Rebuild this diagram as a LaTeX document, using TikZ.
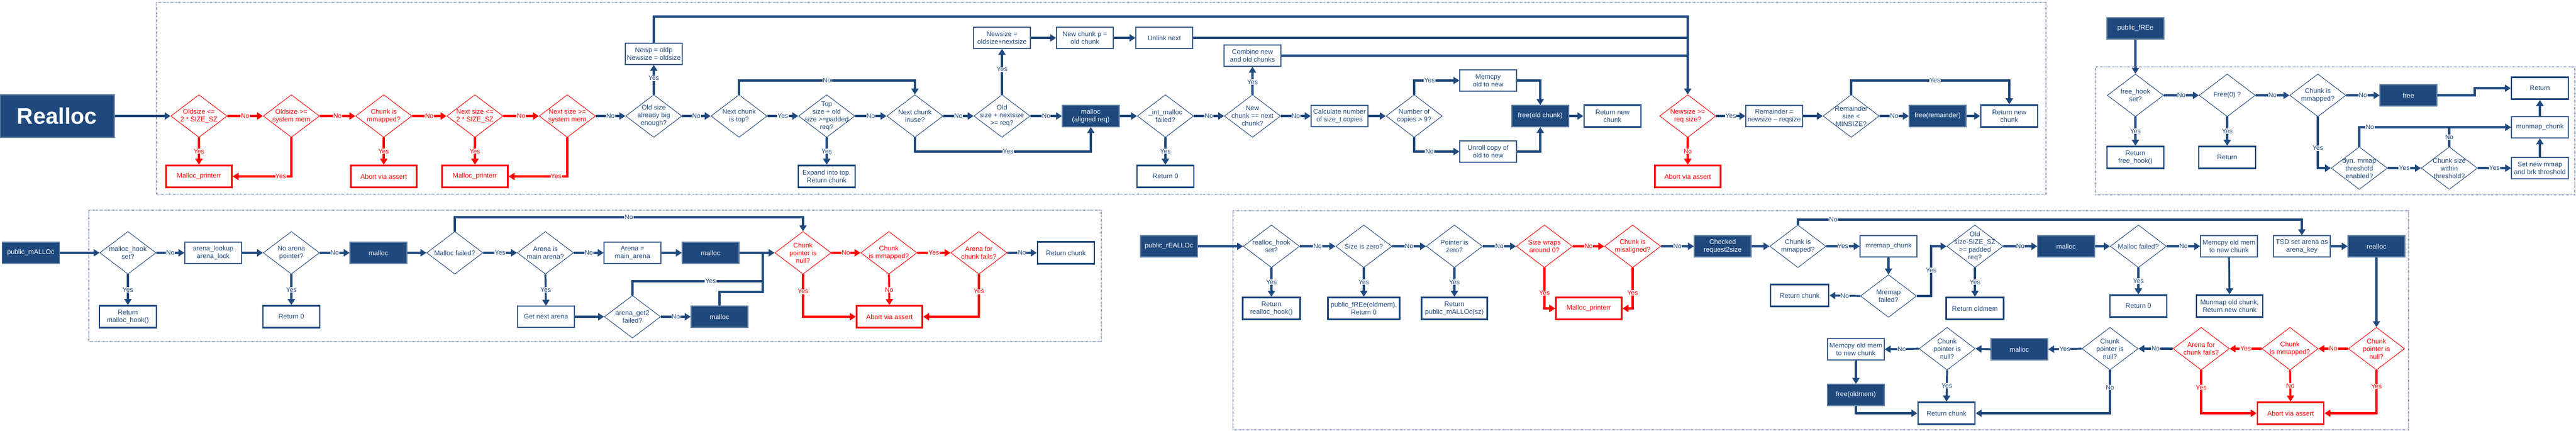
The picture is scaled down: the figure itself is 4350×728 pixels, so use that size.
\documentclass[tikz,border=0pt]{standalone}
\usepackage{fontspec}
\setmainfont{Liberation Sans}
\usetikzlibrary{shapes.geometric,arrows.meta}
\definecolor{dblue}{HTML}{1F497D}
\definecolor{frm}{HTML}{7F93B8}
\newcommand\dfnt{\fontsize{11.3}{13}\selectfont}
\newcommand\lfnt{\fontsize{11}{12}\selectfont}
\begin{document}
\begin{tikzpicture}[x=1pt,y=-1pt,
  bdia/.style={diamond,draw=dblue,line width=0.9pt,minimum width=95pt,minimum height=72pt,inner sep=0pt,fill=white},
  rdia/.style={bdia,draw=red},
  bdt/.style={align=center,font=\dfnt,text=dblue,inner sep=0pt},
  rdt/.style={bdt,text=red},
  tbox/.style={rectangle,draw=dblue!85,line width=1.2pt,fill=white,minimum width=96pt,minimum height=36pt,inner sep=0pt,align=center,text=dblue,font=\dfnt},
  fbox/.style={tbox,fill=dblue,text=white,draw=dblue!70},
  kbox/.style={tbox,line width=2.6pt,draw=dblue,minimum height=37pt},
  rbox/.style={kbox,draw=red,text=red,minimum width=111pt},
  bc/.style={draw=dblue,line width=3.2pt,-{Triangle[length=10pt,width=12pt]}},
  rc/.style={bc,draw=red},
  bl/.style={draw=dblue,line width=3.2pt},
  lb/.style={fill=white,inner sep=0.6pt,font=\lfnt,text=dblue},
  lr/.style={lb,text=red},
  frame/.style={draw=frm,line width=1.2pt,dash pattern=on 1pt off 1pt}
]
\useasboundingbox (0,0) rectangle (4350,728);
\fill[white] (0,0) rectangle (4350,728);

% frames
\draw[frame] (264,4) rectangle (3455,328);
\draw[frame] (3539,113) rectangle (4348,329);
\draw[frame] (150,355) rectangle (1860,577);
\draw[frame] (2082,356) rectangle (4067,726);

% helper coordinates
\coordinate (ytop) at (0,28);
\coordinate (yA) at (0,136);
\coordinate (yB) at (0,256);
\coordinate (fj) at (4179,0);
\coordinate (yM) at (0,367);
\coordinate (yY) at (0,475);
\coordinate (yZ) at (0,493);
\coordinate (jx) at (1288,0);
\coordinate (jr) at (3261,0);
\coordinate (yR) at (0,371);

% ===== Realloc (top) =====
\node[fbox,minimum width=193pt,minimum height=72pt,font=\fontsize{38}{40}\selectfont\bfseries] (realloc) at (96.5,196) {Realloc};
\node[rdia,label={[rdt]center:{Oldsize <=\\2 * SIZE\_SZ}}] (d1) at (336,196) {};
\node[rdia,label={[rdt]center:{Oldsize >=\\system mem}}] (d2) at (492,196) {};
\node[rdia,label={[rdt]center:{Chunk is\\mmapped?}}] (d3) at (648,196) {};
\node[rdia,label={[rdt]center:{Next size <=\\2 * SIZE\_SZ}}] (d4) at (802,196) {};
\node[rdia,label={[rdt]center:{Next size >=\\system mem}}] (d5) at (958,196) {};
\node[bdia,label={[bdt]center:{Old size\\already big\\enough?}}] (d6) at (1104,196) {};
\node[bdia,label={[bdt]center:{Next chunk\\is top?}}] (d7) at (1248,196) {};
\node[bdia,label={[bdt]center:{Top\\size + old\\size >=padded\\req?}}] (d8) at (1396,196) {};
\node[bdia,label={[bdt]center:{Next chunk\\inuse?}}] (d9) at (1545,196) {};
\node[bdia,label={[bdt]center:{Old\\size + nextsize\\>= req?}}] (d10) at (1692,196) {};
\node[fbox] (mal1) at (1842,196) {malloc\\(aligned req)};
\node[bdia,label={[bdt]center:{\_int\_malloc\\failed?}}] (d11) at (1968,196) {};
\node[bdia,label={[bdt]center:{New\\chunk == next\\chunk?}}] (d12) at (2115,196) {};
\node[tbox] (calc) at (2262,196) {Calculate number\\of size\_t copies};
\node[bdia,label={[bdt]center:{Number of\\copies > 9?}}] (d13) at (2388,196) {};
\node[tbox] (memcpy1) at (2513,136) {Memcpy\\old to new};
\node[tbox] (unroll) at (2513,256) {Unroll copy of\\old to new};
\node[fbox] (freeold) at (2601,196) {free(old chunk)};
\node[kbox] (retnew1) at (2723,196) {Return new\\chunk};
\node[rdia,label={[rdt]center:{Newsize >=\\req size?}}] (d14) at (2850,196) {};
\node[tbox] (remainder) at (2996,196) {Remainder =\\newsize -- reqsize};
\node[bdia,label={[bdt]center:{Remainder\\size <\\MINSIZE?}}] (d15) at (3126,196) {};
\node[fbox] (freerem) at (3272,196) {free(remainder)};
\node[kbox] (retnew2) at (3393,196) {Return new\\chunk};
\node[rbox] (pr1) at (336,298) {Malloc\_printerr};
\node[rbox] (abort1) at (648,298) {Abort via assert};
\node[rbox] (pr2) at (802,298) {Malloc\_printerr};
\node[tbox] (newp) at (1104,91) {Newp = oldp\\Newsize = oldsize};
\node[kbox] (expand) at (1396,298) {Expand into top,\\Return chunk};
\node[tbox] (newsize) at (1692,64) {Newsize =\\oldsize+nextsize};
\node[tbox] (newchunk) at (1832,64) {New chunk p =\\old chunk};
\node[tbox] (unlink) at (1966,64) {Unlink next};
\node[kbox] (ret0a) at (1968,298) {Return 0};
\node[tbox] (combine) at (2115,94) {Combine new\\and old chunks};
\node[rbox] (abort2) at (2850,298) {Abort via assert};

\draw[bc] (realloc.east) -- (d1.west);
\draw[rc] (d1.east) -- node[lr]{No} (d2.west);
\draw[rc] (d2.east) -- node[lr]{No} (d3.west);
\draw[rc] (d3.east) -- node[lr]{No} (d4.west);
\draw[rc] (d4.east) -- node[lr]{No} (d5.west);
\draw[bc] (d5.east) -- node[lb]{No} (d6.west);
\draw[rc] (d1.south) -- node[lr]{Yes} (pr1.north);
\draw[rc] (d2.south) -- (d2.south |- pr1.east) -- node[lr,pos=0.18]{Yes} (pr1.east);
\draw[rc] (d3.south) -- node[lr]{Yes} (abort1.north);
\draw[rc] (d4.south) -- node[lr]{Yes} (pr2.north);
\draw[rc] (d5.south) -- (d5.south |- pr2.east) -- node[lr,pos=0.19]{Yes} (pr2.east);
\draw[bc] (d6.east) -- node[lb]{No} (d7.west);
\draw[bc] (d6.north) -- node[lb,pos=0.55]{Yes} (newp.south);
\draw[bc] (newp.north) -- (newp.north |- ytop) -| (d14.north);
\draw[bl] (unlink.east) -- (unlink.east -| d14.north);
\draw[bl] (combine.east) -- (combine.east -| d14.north);
\draw[bc] (d7.east) -- node[lb]{Yes} (d8.west);
\draw[bc] (d7.north) -- (d7.north |- yA) -- node[lb]{No} (d9.north |- yA) -- (d9.north);
\draw[bc] (d8.south) -- node[lb]{Yes} (expand.north);
\draw[bc] (d8.east) -- node[lb]{No} (d9.west);
\draw[bc] (d9.east) -- node[lb]{No} (d10.west);
\draw[bc] (d9.south) -- (d9.south |- yB) -- node[lb,pos=0.53]{Yes} (mal1.south |- yB) -- (mal1.south);
\draw[bc] (d10.north) -- node[lb,pos=0.55]{Yes} (newsize.south);
\draw[bc] (d10.east) -- node[lb]{No} (mal1.west);
\draw[bc] (newsize.east) -- (newchunk.west);
\draw[bc] (newchunk.east) -- (unlink.west);
\draw[bc] (mal1.east) -- (d11.west);
\draw[bc] (d11.south) -- node[lb]{Yes} (ret0a.north);
\draw[bc] (d11.east) -- node[lb]{No} (d12.west);
\draw[bc] (d12.north) -- node[lb,pos=0.45]{Yes} (combine.south);
\draw[bc] (d12.east) -- node[lb]{No} (calc.west);
\draw[bc] (calc.east) -- (d13.west);
\draw[bc] (d13.north) -- (d13.north |- yA) -- node[lb,pos=0.34]{Yes} (memcpy1.west);
\draw[bc] (d13.south) -- (d13.south |- yB) -- node[lb,pos=0.34]{No} (unroll.west);
\draw[bc] (memcpy1.east) -| (freeold.north);
\draw[bc] (unroll.east) -| (freeold.south);
\draw[bc] (freeold.east) -- (retnew1.west);
\draw[rc] (d14.south) -- node[lr]{No} (abort2.north);
\draw[bc] (d14.east) -- node[lb]{Yes} (remainder.west);
\draw[bc] (remainder.east) -- (d15.west);
\draw[bc] (d15.east) -- node[lb]{No} (freerem.west);
\draw[bc] (d15.north) -- (d15.north |- yA) -- node[lb,pos=0.53]{Yes} (retnew2.north |- yA) -- (retnew2.north);
\draw[bc] (freerem.east) -- (retnew2.west);

% ===== public_fREe =====
\node[fbox] (pfree) at (3606,48) {public\_fREe};
\node[bdia,label={[bdt]center:{free\_hook\\set?}}] (f1) at (3606,161) {};
\node[bdia,label={[bdt]center:{Free(0) ?}}] (f2) at (3761,161) {};
\node[bdia,label={[bdt]center:{Chunk is\\mmapped?}}] (f3) at (3914,161) {};
\node[kbox] (retfh) at (3606,266) {Return\\free\_hook()};
\node[kbox] (ret) at (3761,266) {Return};
\node[fbox] (freeb) at (4067,161) {free};
\node[kbox] (retf) at (4289,149) {Return};
\node[bdia,label={[bdt]center:{dyn. mmap\\threshold\\enabled?}}] (f4) at (3984,284) {};
\node[bdia,label={[bdt]center:{Chunk size\\within\\threshold?}}] (f5) at (4136,284) {};
\node[tbox] (munmap) at (4289,215) {munmap\_chunk};
\node[tbox] (setnew) at (4289,284) {Set new mmap\\and brk threshold};

\draw[bc] (pfree.south) -- (f1.north);
\draw[bc] (f1.east) -- node[lb]{No} (f2.west);
\draw[bc] (f1.south) -- node[lb]{Yes} (retfh.north);
\draw[bc] (f2.east) -- node[lb]{No} (f3.west);
\draw[bc] (f2.south) -- node[lb]{Yes} (ret.north);
\draw[bc] (f3.east) -- node[lb]{No} (freeb.west);
\draw[bc] (freeb.east) -- (freeb.east -| fj) |- (retf.west);
\draw[bc] (f3.south) -- node[lb,pos=0.61]{Yes} (f3.south |- f4.west) -- (f4.west);
\draw[bc] (f4.north) -- (f4.north |- munmap.west) -- node[lb,pos=0.07]{No} (munmap.west);
\draw[bl] (f5.north) -- node[lb]{No} (f5.north |- munmap.west);
\draw[bc] (f4.east) -- node[lb]{Yes} (f5.west);
\draw[bc] (f5.east) -- node[lb]{Yes} (setnew.west);
\draw[bc] (setnew.north) -- (munmap.south);
\draw[bc] (munmap.north) -- (retf.south);

% ===== public_mALLOc =====
\node[fbox,minimum width=97pt] (pmalloc) at (52,427) {public\_mALLOc};
\node[bdia,label={[bdt]center:{malloc\_hook\\set?}}] (m1) at (216,427) {};
\node[kbox] (retmh) at (216,535) {Return\\malloc\_hook()};
\node[tbox] (arlk) at (360,427) {arena\_lookup\\arena\_lock};
\node[bdia,label={[bdt]center:{No arena\\pointer?}}] (m2) at (492,427) {};
\node[kbox] (ret0m) at (492,535) {Return 0};
\node[fbox] (mal2) at (639,427) {malloc};
\node[bdia,label={[bdt]center:{Malloc failed?}}] (m3) at (768,427) {};
\node[bdia,label={[bdt]center:{Arena is\\main arena?}}] (m4) at (921,427) {};
\node[tbox] (getnext) at (922,535) {Get next arena};
\node[tbox] (arm) at (1068,427) {Arena =\\main\_arena};
\node[fbox] (mal3) at (1200,427) {malloc};
\node[bdia,label={[bdt]center:{arena\_get2\\failed?}}] (ag2) at (1068,535) {};
\node[fbox] (mal4) at (1215,535) {malloc};
\node[rdia,label={[rdt]center:{Chunk\\pointer is\\null?}}] (m5) at (1356,427) {};
\node[rdia,label={[rdt]center:{Chunk\\is mmapped?}}] (m6) at (1501,427) {};
\node[rbox] (abortm) at (1502,535) {Abort via assert};
\node[rdia,label={[rdt]center:{Arena for\\chunk fails?}}] (m7) at (1653,427) {};
\node[kbox] (retchm) at (1800,427) {Return chunk};

\draw[bc] (pmalloc.east) -- (m1.west);
\draw[bc] (m1.east) -- node[lb]{No} (arlk.west);
\draw[bc] (m1.south) -- node[lb]{Yes} (retmh.north);
\draw[bc] (arlk.east) -- (m2.west);
\draw[bc] (m2.east) -- node[lb]{No} (mal2.west);
\draw[bc] (m2.south) -- node[lb]{Yes} (ret0m.north);
\draw[bc] (mal2.east) -- (m3.west);
\draw[bc] (m3.east) -- node[lb]{Yes} (m4.west);
\draw[bc] (m3.north) -- (m3.north |- yM) -- node[lb]{No} (m5.north |- yM) -- (m5.north);
\draw[bc] (m4.east) -- node[lb]{No} (arm.west);
\draw[bc] (m4.south) -- node[lb]{Yes} (getnext.north);
\draw[bc] (arm.east) -- (mal3.west);
\draw[bc] (mal3.east) -- (m5.west);
\draw[bc] (getnext.east) -- (ag2.west);
\draw[bc] (ag2.east) -- node[lb]{No} (mal4.west);
\draw[bl] (ag2.north) -- (ag2.north |- yY) -- node[lb,pos=0.6]{Yes} (jx |- yY);
\draw[bl] (mal4.north) -- (mal4.north |- yZ) -- (jx |- yZ) -- (jx |- m5.west);
\draw[rc] (m5.south) -- node[lr,pos=0.4]{Yes} (m5.south |- abortm.west) -- (abortm.west);
\draw[rc] (m5.east) -- node[lr]{No} (m6.west);
\draw[rc] (m6.south) -- node[lr]{No} (abortm.north);
\draw[rc] (m6.east) -- node[lr]{Yes} (m7.west);
\draw[rc] (m7.south) -- node[lr,pos=0.4]{Yes} (m7.south |- abortm.east) -- (abortm.east);
\draw[bc] (m7.east) -- node[lb]{No} (retchm.west);

% ===== public_rEALLOc =====
\node[fbox] (preal) at (1974,416) {public\_rEALLOc};
\node[bdia,label={[bdt]center:{realloc\_hook\\set?}}] (r1) at (2147,416) {};
\node[kbox,minimum width=97pt] (retrh) at (2147,521) {Return\\realloc\_hook()};
\node[bdia,label={[bdt]center:{Size is zero?}}] (r2) at (2303,416) {};
\node[kbox,minimum width=121pt] (rfree) at (2303,521) {public\_fREe(oldmem),\\Return 0};
\node[bdia,label={[bdt]center:{Pointer is\\zero?}}] (r3) at (2456,416) {};
\node[kbox,minimum width=111pt] (rpm) at (2456,521) {Return\\public\_mALLOc(sz)};
\node[rdia,label={[rdt]center:{Size wraps\\around 0?}}] (r4) at (2608,416) {};
\node[rbox] (pr3) at (2683,521) {Malloc\_printerr};
\node[rdia,label={[rdt]center:{Chunk is\\misaligned?}}] (r5) at (2757,416) {};
\node[fbox] (chk) at (2909,416) {Checked\\request2size};
\node[bdia,label={[bdt]center:{Chunk is\\mmapped?}}] (r6) at (3036,416) {};
\node[tbox] (mrem) at (3189,416) {mremap\_chunk};
\node[bdia,label={[bdt]center:{Mremap\\failed?}}] (r7) at (3189,500) {};
\node[kbox,minimum width=98pt] (retch1) at (3039,499) {Return chunk};
\node[bdia,label={[bdt]center:{Old\\size-SIZE\_SZ\\>= padded\\req?}}] (r8) at (3335,416) {};
\node[kbox,minimum width=97pt] (retold) at (3335,521) {Return oldmem};
\node[fbox] (mal5) at (3489,416) {malloc};
\node[bdia,label={[bdt]center:{Malloc failed?}}] (r9) at (3611,416) {};
\node[kbox] (ret0r) at (3611,517) {Return 0};
\node[tbox] (memc2) at (3764,416) {Memcpy old mem\\to new chunk};
\node[kbox,minimum width=112pt] (munm) at (3765,517) {Munmap old chunk,\\Return new chunk};
\node[tbox] (tsd) at (3887,416) {TSD set arena as\\arena\_key};
\node[fbox] (real2) at (4013,416) {realloc};
\node[rdia,label={[rdt]center:{Chunk\\pointer is\\null?}}] (r10) at (4013,589) {};
\node[rdia,label={[rdt]center:{Chunk\\is mmapped?}}] (r11) at (3867,589) {};
\node[rdia,label={[rdt]center:{Arena for\\chunk fails?}}] (r12) at (3717,589) {};
\node[bdia,label={[bdt]center:{Chunk\\pointer is\\null?}}] (r13) at (3563,589) {};
\node[rbox,minimum width=112pt] (abortr) at (3868,698) {Abort via assert};
\node[fbox] (mal6) at (3410,590) {malloc};
\node[bdia,label={[bdt]center:{Chunk\\pointer is\\null?}}] (r14) at (3288,589) {};
\node[tbox] (memc3) at (3134,590) {Memcpy old mem\\to new chunk};
\node[fbox] (freeom) at (3134,667) {free(oldmem)};
\node[kbox] (retch2) at (3287,698) {Return chunk};

\draw[bc] (preal.east) -- (r1.west);
\draw[bc] (r1.east) -- node[lb]{No} (r2.west);
\draw[bc] (r1.south) -- node[lb]{Yes} (retrh.north);
\draw[bc] (r2.east) -- node[lb]{No} (r3.west);
\draw[bc] (r2.south) -- node[lb]{Yes} (rfree.north);
\draw[bc] (r3.east) -- node[lb]{No} (r4.west);
\draw[bc] (r3.south) -- node[lb]{Yes} (rpm.north);
\draw[rc] (r4.east) -- node[lr]{No} (r5.west);
\draw[rc] (r4.south) -- node[lr,pos=0.62]{Yes} (r4.south |- pr3.west) -- (pr3.west);
\draw[rc] (r5.south) -- node[lr,pos=0.61]{Yes} (r5.south |- pr3.east) -- (pr3.east);
\draw[bc] (r5.east) -- node[lb]{No} (chk.west);
\draw[bc] (chk.east) -- (r6.west);
\draw[bc] (r6.east) -- node[lb]{Yes} (mrem.west);
\draw[bc] (mrem.south) -- (r7.north);
\draw[bc] (r7.west) -- node[lb]{No} (retch1.east);
\draw[bc] (r7.east) -- (r7.east -| jr) -- node[lb,pos=0.52]{Yes} (jr |- r8.west) -- (r8.west);
\draw[bc] (r8.south) -- node[lb]{Yes} (retold.north);
\draw[bc] (r8.east) -- node[lb]{No} (mal5.west);
\draw[bc] (mal5.east) -- (r9.west);
\draw[bc] (r9.south) -- node[lb]{Yes} (ret0r.north);
\draw[bc] (r9.east) -- node[lb]{No} (memc2.west);
\draw[bc] (memc2.south) -- (munm.north);
\draw[bc] (r6.north) -- (r6.north |- yR) -- node[lb,pos=0.07]{No} (tsd.north |- yR) -- (tsd.north);
\draw[bc] (tsd.east) -- (real2.west);
\draw[bc] (real2.south) -- (r10.north);
\draw[rc] (r10.west) -- node[lr]{No} (r11.east);
\draw[rc] (r10.south) -- node[lr,pos=0.38]{Yes} (r10.south |- abortr.east) -- (abortr.east);
\draw[rc] (r11.south) -- node[lr]{No} (abortr.north);
\draw[rc] (r11.west) -- node[lr]{Yes} (r12.east);
\draw[rc] (r12.south) -- node[lr,pos=0.4]{Yes} (r12.south |- abortr.west) -- (abortr.west);
\draw[bc] (r12.west) -- node[lb]{No} (r13.east);
\draw[bc] (r13.west) -- node[lb]{Yes} (mal6.east);
\draw[bc] (r13.south) -- node[lb,pos=0.4]{No} (r13.south |- retch2.east) -- (retch2.east);
\draw[bc] (mal6.west) -- (r14.east);
\draw[bc] (r14.west) -- node[lb]{No} (memc3.east);
\draw[bc] (r14.south) -- node[lb]{Yes} (retch2.north);
\draw[bc] (memc3.south) -- (freeom.north);
\draw[bc] (freeom.south) |- (retch2.west);
\end{tikzpicture}
\end{document}
